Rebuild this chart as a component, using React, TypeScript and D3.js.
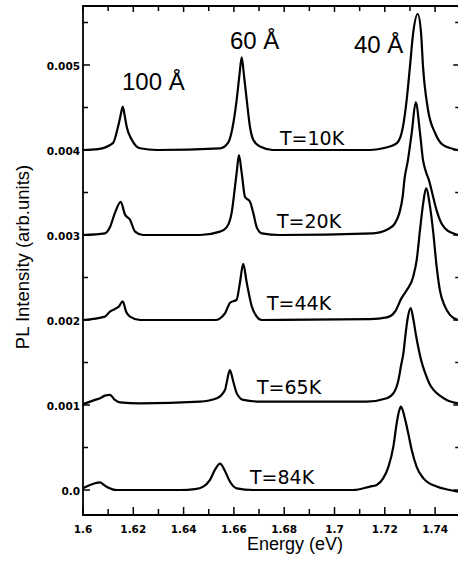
import React from "react";
import * as d3 from "d3";

// Energy (eV), PL intensity (units of 10^-3 arb.units, stacked offsets included)
const spec10K: [number, number][] = [
  [1.6, 4.0], [1.606, 4.01], [1.6119, 4.08], [1.6139, 4.27], [1.6149, 4.4], [1.6158, 4.51], [1.6166, 4.4],
  [1.6174, 4.27], [1.6194, 4.12], [1.6227, 4.02], [1.6294, 4.0], [1.6545, 4.02], [1.6578, 4.09],
  [1.6598, 4.32], [1.6611, 4.59], [1.6622, 4.88], [1.6631, 5.09], [1.664, 4.88], [1.6651, 4.59],
  [1.6664, 4.27], [1.6677, 4.12], [1.6704, 4.04], [1.6755, 4.0], [1.7141, 4.0], [1.7193, 4.02],
  [1.7248, 4.08], [1.7272, 4.27], [1.7287, 4.59], [1.73, 4.98], [1.7313, 5.38], [1.7331, 5.6],
  [1.7344, 5.38], [1.7352, 4.98], [1.7372, 4.47], [1.74, 4.2], [1.7431, 4.06], [1.7491, 4.0],
];
const spec20K: [number, number][] = [
  [1.6, 3.0], [1.6087, 3.02], [1.6107, 3.09], [1.6127, 3.26], [1.615, 3.39], [1.6167, 3.24],
  [1.6187, 3.18], [1.6207, 3.04], [1.6239, 3.0], [1.6465, 3.0], [1.6545, 3.04], [1.6571, 3.09],
  [1.6591, 3.26], [1.6604, 3.56], [1.6612, 3.76], [1.662, 3.94], [1.6631, 3.73], [1.6644, 3.45],
  [1.6664, 3.39], [1.6677, 3.26], [1.6691, 3.09], [1.6711, 3.02], [1.6783, 3.0], [1.7153, 3.02],
  [1.7214, 3.07], [1.7241, 3.14], [1.7258, 3.26], [1.7271, 3.45], [1.7278, 3.65], [1.7292, 3.88],
  [1.7307, 4.2], [1.7323, 4.56], [1.734, 4.2], [1.7352, 3.88], [1.7364, 3.74], [1.7376, 3.64],
  [1.7392, 3.45], [1.7406, 3.29], [1.7423, 3.15], [1.7439, 3.08], [1.7471, 3.02], [1.7491, 3.0],
];
const spec44K: [number, number][] = [
  [1.6, 2.0], [1.6087, 2.04], [1.6107, 2.1], [1.6127, 2.13], [1.6143, 2.16], [1.6158, 2.22],
  [1.6171, 2.1], [1.6187, 2.04], [1.6227, 2.0], [1.6525, 2.0], [1.6545, 2.02], [1.6565, 2.08],
  [1.6584, 2.2], [1.6611, 2.24], [1.6624, 2.44], [1.6637, 2.66], [1.6651, 2.44], [1.6671, 2.16],
  [1.6691, 2.04], [1.6711, 2.0], [1.7141, 2.01], [1.7208, 2.03], [1.7241, 2.1], [1.7267, 2.26],
  [1.7287, 2.35], [1.7313, 2.51], [1.7327, 2.71], [1.734, 3.06], [1.7353, 3.38], [1.7364, 3.55],
  [1.738, 3.33], [1.7393, 3.02], [1.7406, 2.63], [1.7419, 2.35], [1.7439, 2.16], [1.7459, 2.06],
  [1.7491, 2.0],
];
const spec65K: [number, number][] = [
  [1.6, 1.01], [1.6048, 1.06], [1.6068, 1.08], [1.6087, 1.11], [1.6107, 1.12], [1.6127, 1.06],
  [1.6147, 1.03], [1.6227, 1.02], [1.6465, 1.04], [1.6532, 1.08], [1.6565, 1.18], [1.6571, 1.26],
  [1.6584, 1.41], [1.6598, 1.27], [1.6611, 1.14], [1.6637, 1.06], [1.6704, 1.04], [1.7127, 1.04],
  [1.7208, 1.08], [1.7237, 1.15], [1.7254, 1.29], [1.7265, 1.47], [1.7274, 1.61], [1.7282, 1.82],
  [1.7291, 2.02], [1.7303, 2.14], [1.7314, 2.0], [1.7324, 1.82], [1.7333, 1.68], [1.7346, 1.51],
  [1.736, 1.38], [1.7376, 1.26], [1.7393, 1.18], [1.7419, 1.11], [1.7446, 1.06], [1.7491, 1.02],
];
const spec84K: [number, number][] = [
  [1.6, 0.02], [1.6028, 0.06], [1.6048, 0.08], [1.6068, 0.09], [1.6083, 0.06], [1.6099, 0.03],
  [1.6134, 0.0], [1.6386, 0.0], [1.6445, 0.01], [1.6478, 0.04], [1.6505, 0.12], [1.6525, 0.24],
  [1.6545, 0.31], [1.6565, 0.22], [1.6584, 0.1], [1.6611, 0.02], [1.6676, 0.0], [1.7074, 0.0],
  [1.7141, 0.04], [1.7168, 0.06], [1.7194, 0.14], [1.7214, 0.27], [1.7234, 0.51], [1.7247, 0.78],
  [1.7256, 0.92], [1.7264, 0.98], [1.728, 0.84], [1.7293, 0.67], [1.7307, 0.47], [1.7327, 0.27],
  [1.7353, 0.14], [1.7406, 0.04], [1.7459, 0.0], [1.7491, -0.02],
];

const spectra = [spec10K, spec20K, spec44K, spec65K, spec84K];
const tempLabels = ["T=10K", "T=20K", "T=44K", "T=65K", "T=84K"];
const peakLabels = ["100 Å", "60 Å", "40 Å"];

const xTickValues = [1.6, 1.62, 1.64, 1.66, 1.68, 1.7, 1.72, 1.74];
const xTickLabels = ["1.6", "1.62", "1.64", "1.66", "1.68", "1.7", "1.72", "1.74"];
const yTickValues = [0, 1, 2, 3, 4, 5];
const yTickLabels = ["0.0", "0.001", "0.002", "0.003", "0.004", "0.005"];

const W = 458;
const H = 562;

export default function App() {
  const x = d3.scaleLinear().domain([1.6, 1.75]).range([83, 460.25]);
  const y = d3.scaleLinear().domain([-0.294, 5.694]).range([515, 6]);
  const line = d3
    .line<[number, number]>()
    .x((d) => x(d[0]))
    .y((d) => y(d[1]))
    .curve(d3.curveMonotoneX);

  const xMinor = d3.range(0, 16).map((i) => 1.6 + i * 0.01);
  const yMinor = d3.range(0, 12).map((i) => i * 0.5);

  const [x0, x1] = x.range();
  const [yb, yt] = y.range();

  // label positions (pixels) for temperature and peak annotations
  const tPos = [
    [280, 145],
    [277, 228],
    [267, 310],
    [257, 394],
    [250, 484],
  ];
  const pPos = [
    [122, 90],
    [230, 49],
    [354, 53],
  ];

  const tickFont = "'DejaVu Sans', sans-serif";

  return (
    <svg
      width={W}
      height={H}
      style={{ position: "absolute", left: 0, top: 0, background: "#fff" }}
    >
      <rect x={0} y={0} width={W} height={H} fill="#fff" />
      {/* frame */}
      <path
        d={`M${x0},${yt}V${yb}H${x1}V${yt}Z`}
        fill="none"
        stroke="#000"
        strokeWidth={1.8}
      />
      {/* x ticks bottom and top */}
      {xMinor.map((v, i) => {
        const major = i % 2 === 0;
        return (
          <g key={"xt" + i}>
            <line x1={x(v)} x2={x(v)} y1={yb} y2={yb - (major ? 8 : 6)} stroke="#000" strokeWidth={1.5} />
            <line x1={x(v)} x2={x(v)} y1={yt} y2={yt + (major ? 6 : 5)} stroke="#000" strokeWidth={1.5} />
          </g>
        );
      })}
      {/* y ticks left and right */}
      {yMinor.map((v, i) => {
        const major = i % 2 === 0;
        return (
          <g key={"yt" + i}>
            <line x1={x0} x2={x0 + (major ? 7 : 5)} y1={y(v)} y2={y(v)} stroke="#000" strokeWidth={1.5} />
            <line x1={x1} x2={x1 - (major ? 7 : 5)} y1={y(v)} y2={y(v)} stroke="#000" strokeWidth={1.5} />
          </g>
        );
      })}
      {/* x tick labels */}
      {xTickValues.map((v, i) => (
        <text
          key={"xl" + i}
          x={x(v)}
          y={533}
          textAnchor="middle"
          fontFamily={tickFont}
          fontWeight="bold"
          fontSize={10.5}
        >
          {xTickLabels[i]}
        </text>
      ))}
      {/* y tick labels */}
      {yTickValues.map((v, i) => (
        <text
          key={"yl" + i}
          x={80}
          y={y(v) + 4.8}
          textAnchor="end"
          fontFamily={tickFont}
          fontWeight="bold"
          fontSize={10.5}
        >
          {yTickLabels[i]}
        </text>
      ))}
      {/* axis titles */}
      <text
        x={295}
        y={550}
        textAnchor="middle"
        fontFamily="'Liberation Sans', Arial, sans-serif"
        fontSize={18}
      >
        Energy (eV)
      </text>
      <text
        transform={`translate(29,257) rotate(-90)`}
        textAnchor="middle"
        fontFamily="'Liberation Sans', Arial, sans-serif"
        fontSize={18.5}
      >
        PL Intensity (arb.units)
      </text>
      {/* spectra */}
      {spectra.map((s, i) => (
        <path
          key={"s" + i}
          d={line(s) || ""}
          fill="none"
          stroke="#000"
          strokeWidth={2.2}
          strokeLinejoin="round"
        />
      ))}
      {/* temperature labels */}
      {tempLabels.map((t, i) => (
        <text
          key={"t" + i}
          x={tPos[i][0]}
          y={tPos[i][1]}
          fontFamily="'DejaVu Sans', sans-serif"
          fontSize={19}
        >
          {t}
        </text>
      ))}
      {/* peak labels */}
      {peakLabels.map((t, i) => (
        <text
          key={"p" + i}
          x={pPos[i][0]}
          y={pPos[i][1]}
          fontFamily="'Liberation Sans', Arial, sans-serif"
          fontSize={24}
        >
          {t}
        </text>
      ))}
    </svg>
  );
}
